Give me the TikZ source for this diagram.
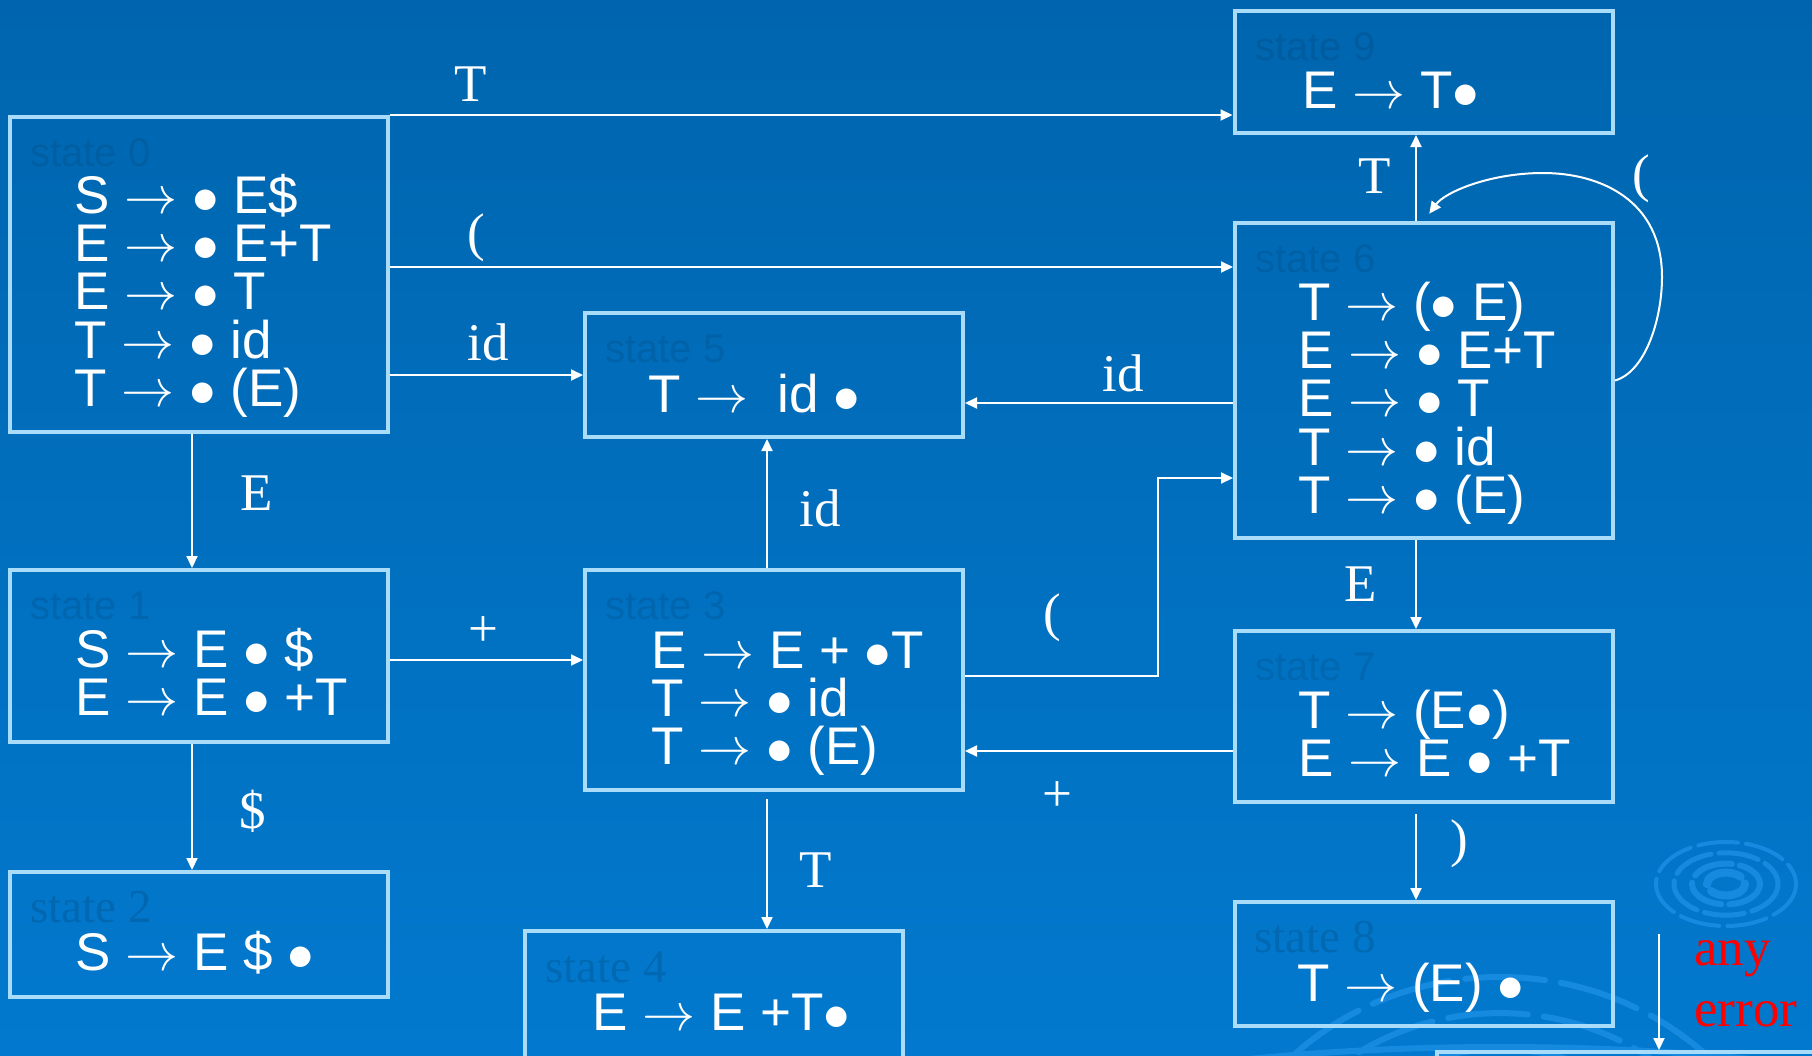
\RequirePackage{fix-cm}
\documentclass[tikz,border=0pt]{standalone}
\usepackage{fontspec}
\setmainfont{Liberation Serif}
\setsansfont{Liberation Sans}
\usetikzlibrary{arrows.meta}

\definecolor{bgtop}{RGB}{0,101,174}
\definecolor{bgbot}{RGB}{2,121,206}
\definecolor{boxline}{RGB}{168,220,248}
\definecolor{ripple}{RGB}{22,138,222}

\begin{document}
\begin{tikzpicture}[x=0.5pt, y=-0.5pt,
	state/.style={draw=boxline, line width=2pt, minimum width=189pt, inner sep=0pt},
	items/.style={anchor=base west, align=left, inner sep=0pt, text=white, font=\sffamily\fontsize{26.5}{24.2}\selectfont},
	tag/.style={anchor=base west, inner sep=0pt, text=black, text opacity=0.09, font=\sffamily\fontsize{20}{22}\selectfont},
	rtag/.style={tag, text opacity=0.12, font=\rmfamily\fontsize{23.5}{25}\selectfont},
	lbl/.style={inner sep=0pt, text=white, font=\rmfamily\fontsize{26.5}{30.5}\selectfont}]
	\useasboundingbox (0,0) rectangle (1812,1056);
	\clip (0,0) rectangle (1812,1056);
	\shade[top color=bgtop, bottom color=bgbot] (0,0) rectangle (1812,1056);

	\begin{scope}[ripple, line cap=round]
		\foreach \r/\w in {19/4pt, 34/3pt, 52/2.5pt, 70/2pt}
			\draw[line width=\w, dash pattern=on 20pt off 4pt] (1726,884) ellipse ({\r} and {\r*0.6});
		\foreach \r in {300, 262, 224}
			\draw[line width=3pt, dash pattern=on 40pt off 8pt] (1500,1262) ellipse ({\r} and {\r*0.95});
		\draw[line width=3pt] (1500,1262) ellipse (760 and 215);
	\end{scope}

	\node[state, minimum height=157.5pt] (s0) at (199,274.5) {};
	\node[state, minimum height=62pt] (s5) at (774,375) {};
	\node[state, minimum height=86pt] (s1) at (199,656) {};
	\node[state, minimum height=110pt] (s3) at (774,680) {};
	\node[state, minimum height=62.5pt] (s2) at (199,934.5) {};
	\node[state, minimum height=64pt] (s4) at (713.5,995) {};
	\node[state, minimum height=61pt] (s9) at (1423.5,72) {};
	\node[state, minimum height=157.5pt] (s6) at (1424,380.5) {};
	\node[state, minimum height=85.5pt] (s7) at (1424,716.5) {};
	\node[state, minimum height=62pt] (s8) at (1423.5,964) {};
	\node[state, minimum width=250pt, minimum height=50pt] (err) at (1687,1102) {};

	\node[tag] (n0) at (30,166) {state 0};
	\node[tag] (n5) at (605,362) {state 5};
	\node[tag] (n1) at (30,619) {state 1};
	\node[tag] (n3) at (605,619) {state 3};
	\node[rtag] (n2) at (30,922) {state 2};
	\node[rtag] (n4) at (545,982) {state 4};
	\node[tag] (n9) at (1255,60) {state 9};
	\node[tag] (n6) at (1255,272) {state 6};
	\node[tag] (n7) at (1255,680) {state 7};
	\node[rtag] (n8) at (1254,952) {state 8};

	\node[items] (p0) at (74,406.6) {S $\rightarrow$ $\bullet$ E\$\\E $\rightarrow$ $\bullet$ E+T\\E $\rightarrow$ $\bullet$ T\\T $\rightarrow$ $\bullet$ id\\T $\rightarrow$ $\bullet$ (E)};
	\node[items] (p5) at (648,412) {T $\rightarrow$\ \ id $\bullet$};
	\node[items] (p1) at (75,715.4) {S $\rightarrow$ E $\bullet$ \$\\E $\rightarrow$ E $\bullet$ +T};
	\node[items] (p3) at (651,764.8) {E $\rightarrow$ E + $\bullet$T\\T $\rightarrow$ $\bullet$ id\\T $\rightarrow$ $\bullet$ (E)};
	\node[items] (p2) at (75,970) {S $\rightarrow$ E \$ $\bullet$};
	\node[items] (p4) at (592,1030) {E $\rightarrow$ E +T$\bullet$};
	\node[items] (p9) at (1302,108) {E $\rightarrow$ T$\bullet$};
	\node[items] (p6) at (1298,513.6) {T $\rightarrow$ ($\bullet$ E)\\E $\rightarrow$ $\bullet$ E+T\\E $\rightarrow$ $\bullet$ T\\T $\rightarrow$ $\bullet$ id\\T $\rightarrow$ $\bullet$ (E)};
	\node[items] (p7) at (1298,776.4) {T $\rightarrow$ (E$\bullet$)\\E $\rightarrow$ E $\bullet$ +T};
	\node[items] (p8) at (1297,1001) {T $\rightarrow$ (E) $\bullet$};

	\coordinate (l2) at (0,267);
	\coordinate (l4) at (192,0);
	\coordinate (l6) at (0,660);
	\coordinate (l7) at (767,0);
	\coordinate (k9) at (1158,676);
	\coordinate (l9) at (0,478);
	\coordinate (l10) at (0,403);
	\coordinate (l11) at (1416,0);
	\coordinate (l14) at (0,751);
	\coordinate (e1) at (1659,934);

	\begin{scope}[white, line width=1pt, -{Triangle[length=6pt, width=5.5pt]}]
		\draw (s0.north east) -- (s9.west |- s0.north east);
		\draw (s0.east |- l2) -- (s6.west |- l2);
		\draw (s0.east |- s5.west) -- (s5.west);
		\draw (s0.south -| l4) -- (s1.north -| l4);
		\draw (s1.south -| l4) -- (s2.north -| l4);
		\draw (s1.east |- l6) -- (s3.west |- l6);
		\draw (s3.north -| l7) -- (s5.south -| l7);
		\draw[shorten <=3.5pt] (s3.south -| l7) -- (s4.north -| l7);
		\draw (s3.east |- k9) -- (k9) |- (s6.west |- l9);
		\draw (s6.west |- l10) -- (s5.east |- l10);
		\draw (s6.north -| l11) -- (s9.south -| l11);
		\draw[shorten >=4.5pt] (s6.east) .. controls (1645,372) and (1662,320) .. (1662,277) .. controls (1662,200) and (1600,173) .. (1543,173) .. controls (1490,173) and (1445,192) .. (s6.north);
		\draw (s6.south -| l11) -- (s7.north -| l11);
		\draw (s7.west |- l14) -- (s3.east |- l14);
		\draw[shorten <=5pt] (s7.south -| l11) -- (s8.north -| l11);
		\draw (e1) -- (err.north -| e1);
	\end{scope}

	\node[lbl] (g09) at (471,84) {T};
	\node[lbl] (g06) at (476,238) {(};
	\node[lbl] (g05) at (488,342) {id};
	\node[lbl] (g01) at (257,493) {E};
	\node[lbl] (g12) at (253,811) {\$};
	\node[lbl] (g13) at (483,632) {+};
	\node[lbl] (g35) at (820,508) {id};
	\node[lbl] (g34) at (816,870) {T};
	\node[lbl] (g36) at (1052,618) {(};
	\node[lbl] (g65) at (1123,373) {id};
	\node[lbl] (g69) at (1375,176) {T};
	\node[lbl] (g66) at (1641,179) {(};
	\node[lbl] (g67) at (1361,584) {E};
	\node[lbl] (g73) at (1057,797) {+};
	\node[lbl] (g78) at (1459,844) {)};
	\node[lbl, text=red, align=left, anchor=base west] (anyerr) at (1694,1026) {any\\error};
\end{tikzpicture}
\end{document}
